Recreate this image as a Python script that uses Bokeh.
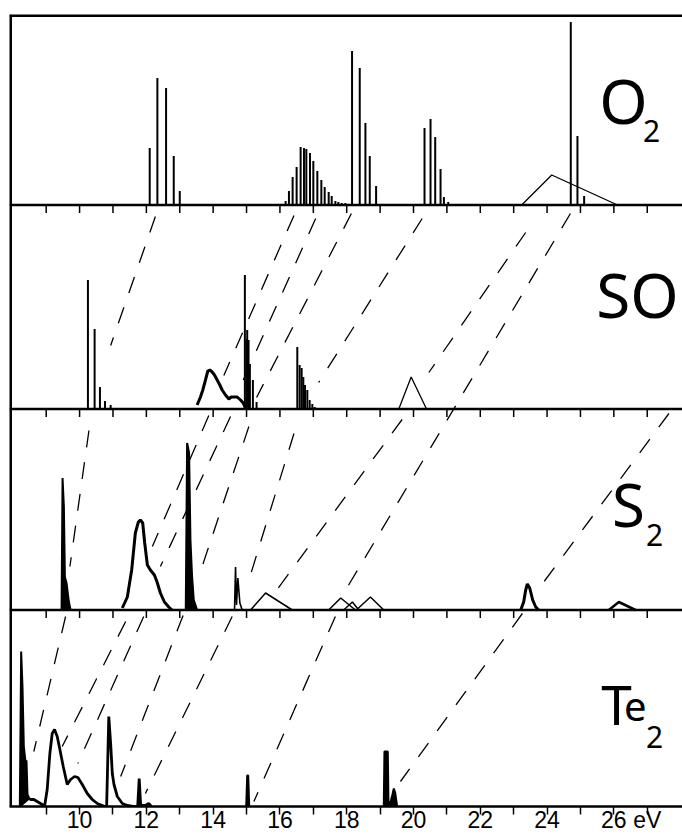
from bokeh.plotting import figure
from bokeh.models import Range1d, FixedTicker, Label
from bokeh.embed import file_html
from bokeh.resources import INLINE

# ---------------- data (energies in eV, intensities in arbitrary units) ----------------
tick_ev = list(range(9, 28))
tick_text = {10: "10", 12: "12", 14: "14", 16: "16", 18: "18", 20: "20",
             22: "22", 24: "24", 26: "26", 27: "eV"}

panel_names = ["O2", "SO", "S2", "Te2"]
panel_base = [601.5, 397.5, 196.5, 0.0]     # stacking offsets of the four spectra

# O2 : resolved vibrational lines
o2_stick_ev = [12.10, 12.33, 12.59, 12.82, 13.00,
               16.17, 16.27, 16.38, 16.50, 16.62, 16.72, 16.79, 16.90, 17.00, 17.12,
               17.24, 17.34, 17.46, 17.55, 17.66, 17.75, 17.85, 17.96, 18.03,
               18.16, 18.39, 18.56, 18.69, 18.88,
               20.33, 20.51, 20.65, 20.81, 20.91, 21.04,
               24.71, 24.91, 25.11]
o2_stick_h = [57, 127, 117, 49, 14,
              4, 14, 28, 38, 58, 57, 56, 52, 44, 34,
              25, 18, 13, 9, 4, 3, 2, 2, 1,
              154, 137, 82, 49, 19,
              77, 86, 68, 36, 8, 3,
              183, 69, 9]
o2_tri_ev = [23.24, 24.14, 26.11]
o2_tri_h = [0, 30, 0]

# SO
so_stick_ev = [10.25, 10.45, 10.61, 10.76, 10.93,
               14.95, 15.00, 15.02, 15.06, 15.10, 15.19, 15.30,
               16.52, 16.59, 16.65, 16.70, 16.75, 16.82, 16.89, 16.97, 17.04]
so_stick_h = [129, 80, 22, 8, 4,
              134, 70, 79, 69, 45, 29, 7,
              62, 44, 41, 32, 24, 19, 9, 5, 2]
so_band_ev = [13.52, 13.62, 13.69, 13.77, 13.84, 13.90, 13.97, 14.04, 14.12, 14.20,
              14.27, 14.37, 14.47, 14.54, 14.62, 14.72, 14.82, 14.90, 14.97]
so_band_h = [4, 12, 19, 29, 38, 39, 37, 34, 29, 24, 19, 14, 10, 12, 12, 12, 9, 6, 1]
so_tri_ev = [19.56, 19.93, 20.39]
so_tri_h = [0, 32, 0]

# S2
s2_peak1_ev = [9.46, 9.49, 9.53, 9.56, 9.61, 9.68, 9.73]
s2_peak1_h = [0, 132, 103, 33, 27, 8, 0]
s2_band_ev = [11.28, 11.43, 11.56, 11.67, 11.76, 11.82, 11.89, 11.95, 12.03, 12.12,
              12.24, 12.32, 12.42, 12.54, 12.67, 12.77]
s2_band_h = [2, 13, 40, 77, 88, 90, 87, 67, 45, 40, 35, 28, 17, 8, 3, 0]
s2_peak2_ev = [13.18, 13.22, 13.28, 13.32, 13.37, 13.42, 13.52]
s2_peak2_h = [0, 167, 157, 70, 33, 10, 0]
s2_spike_ev = [14.64, 14.67, 14.70, 14.74, 14.80, 14.87]
s2_spike_h = [0, 43, 5, 32, 7, 0]
s2_tri1_ev = [15.12, 15.57, 16.37]
s2_tri1_h = [0, 17, 0]
s2_tri2_ev = [17.46, 17.82, 18.26]
s2_tri2_h = [0, 12, 0]
s2_tri3_ev = [17.91, 18.17, 18.36]
s2_tri3_h = [0, 8, 0]
s2_tri4_ev = [18.29, 18.71, 19.11]
s2_tri4_h = [0, 13, 0]
s2_band2_ev = [23.21, 23.30, 23.36, 23.41, 23.48, 23.57, 23.66, 23.75]
s2_band2_h = [0, 8, 20, 26, 22, 10, 3, 0]
s2_band3_ev = [25.85, 26.15, 26.65]
s2_band3_h = [0, 8, 0]

# Te2
te2_peak1_ev = [8.21, 8.25, 8.29, 8.33, 8.38, 8.41, 8.44, 8.49]
te2_peak1_h = [0, 155, 120, 60, 45, 46, 12, 8]
te2_trace_ev = [8.49, 8.53, 8.63, 8.78, 8.88, 8.95, 9.03, 9.11, 9.18, 9.25, 9.33, 9.41,
                9.51, 9.63, 9.73, 9.85, 9.95, 10.08, 10.23, 10.38, 10.53, 10.68, 10.75,
                10.81, 10.875, 10.93, 10.98, 11.03, 11.13, 11.28, 11.43, 11.60, 11.74,
                11.785, 11.83, 11.97, 12.07, 12.15]
te2_trace_h = [8, 7, 7, 4, 2, 0, 17, 53, 73, 77, 70, 57,
               40, 22, 27, 30, 29, 22, 13, 7, 3, 1, 0,
               0, 90, 63, 33, 22, 10, 3, 1, 0, 0,
               28, 1, 1, 3, 0]
te2_peak2_ev = [14.99, 15.02, 15.05, 15.08]
te2_peak2_h = [0, 31, 31, 0]
te2_peak3_ev = [19.11, 19.13, 19.23, 19.25, 19.31, 19.37, 19.41, 19.45, 19.51]
te2_peak3_h = [0, 55, 55, 5, 4, 12, 18, 14, 0]

# correlation lines (start eV, start level, end eV, end level) on the stacked scale
corr_ev0 = [12.27, 16.42, 17.07, 18.14, 20.26, 23.36, 24.70,
            10.28, 13.87, 14.52, 15.07, 16.42, 19.66, 27.65,
            9.58, 11.38, 11.92, 13.10, 14.57, 17.66, 23.26]
corr_y0 = [590, 591, 588, 593, 588, 574, 593,
           376, 391, 390, 380, 373, 387, 393,
           190, 185, 190, 191, 190, 190, 193]
corr_ev1 = [10.93, 14.32, 14.72, 15.30, 17.16, 20.46, 17.96,
            9.71, 12.18, 12.42, 13.57, 15.02, 15.94, 23.80,
            8.63, 9.48, 9.95, 11.23, 11.97, 15.22, 19.61]
corr_y1 = [461, 431, 413, 409, 424, 434, 216,
           240, 260, 240, 230, 221, 218, 220,
           55, 60, 43, 30, 13, 5, 25]

# ---------------- figure ----------------
X0, X1 = 7.901, 28.056
Y1 = 792
p = figure(width=682, height=835, output_backend="svg", toolbar_location=None,
           x_range=Range1d(X0, X1), y_range=Range1d(0, Y1),
           y_axis_location=None)
p.min_border_left = 9
p.min_border_right = 0
p.min_border_top = 14
p.min_border_bottom = 29
p.background_fill_color = "white"
p.border_fill_color = "white"
p.outline_line_color = None
p.xgrid.visible = False
p.ygrid.visible = False

ax = p.xaxis[0]
ax.ticker = FixedTicker(ticks=tick_ev)
ax.major_label_overrides = {t: tick_text.get(t, "") for t in tick_ev}
ax.axis_line_width = 2.5
ax.major_tick_line_width = 1.5
ax.major_tick_out = 8
ax.major_tick_in = 0
ax.minor_tick_line_color = None
ax.major_label_standoff = -8
ax.major_label_text_font = "Liberation Sans"
ax.major_label_text_font_size = "23px"
ax.major_label_text_color = "black"

INK = "black"


def lift(vals, base):
    return [base + v for v in vals]


# frame: left and top borders only
p.segment(x0=[X0, X0], y0=[0, Y1], x1=[X0, X1], y1=[Y1, Y1], line_color=INK, line_width=5)

# panel baselines and their tick marks
for b in panel_base[:3]:
    p.segment(x0=[X0], y0=[b], x1=[X1], y1=[b], line_color=INK, line_width=2.5)
    p.segment(x0=tick_ev, y0=[b] * len(tick_ev), x1=tick_ev, y1=[b - 8] * len(tick_ev),
              line_color=INK, line_width=1.5)

# O2
b = panel_base[0]
p.segment(x0=o2_stick_ev, y0=[b] * len(o2_stick_ev), x1=o2_stick_ev,
          y1=lift(o2_stick_h, b), line_color=INK, line_width=2)
p.line(o2_tri_ev, lift(o2_tri_h, b), line_color=INK, line_width=1.3)

# SO
b = panel_base[1]
p.segment(x0=so_stick_ev, y0=[b] * len(so_stick_ev), x1=so_stick_ev,
          y1=lift(so_stick_h, b), line_color=INK, line_width=2)
p.line(so_band_ev, lift(so_band_h, b), line_color=INK, line_width=3)
p.line(so_tri_ev, lift(so_tri_h, b), line_color=INK, line_width=1.3)

# S2
b = panel_base[2]
for ev, h in [(s2_peak1_ev, s2_peak1_h), (s2_peak2_ev, s2_peak2_h)]:
    p.patch(ev, lift(h, b), fill_color=INK, line_color=INK, line_width=2)
p.line(s2_band_ev, lift(s2_band_h, b), line_color=INK, line_width=3)
p.line(s2_spike_ev, lift(s2_spike_h, b), line_color=INK, line_width=1.6)
for ev, h in [(s2_tri1_ev, s2_tri1_h), (s2_tri2_ev, s2_tri2_h),
              (s2_tri3_ev, s2_tri3_h), (s2_tri4_ev, s2_tri4_h)]:
    p.line(ev, lift(h, b), line_color=INK, line_width=1.5)
p.line(s2_band2_ev, lift(s2_band2_h, b), line_color=INK, line_width=3)
p.line(s2_band3_ev, lift(s2_band3_h, b), line_color=INK, line_width=2.5)

# Te2
b = panel_base[3]
p.patch(te2_peak1_ev, lift(te2_peak1_h, b), fill_color=INK, line_color=INK, line_width=2)
p.line(te2_trace_ev, lift(te2_trace_h, b), line_color=INK, line_width=2.8)
p.patch(te2_peak2_ev, lift(te2_peak2_h, b), fill_color=INK, line_color=INK, line_width=2)
p.patch(te2_peak3_ev, lift(te2_peak3_h, b), fill_color=INK, line_color=INK, line_width=2)

# correlation lines
p.segment(x0=corr_ev0, y0=corr_y0, x1=corr_ev1, y1=corr_y1,
          line_color=INK, line_width=1.3, line_dash="17 15")

# molecule labels
FONT = "Noto Sans"


def add_label(txt, x, y, size):
    p.add_layout(Label(x=x, y=y, text=txt, text_font=FONT, text_font_size=f"{size}px",
                       text_align="center", text_baseline="alphabetic", text_color=INK))


add_label("O", 26.29, 707, 62)
add_label("2", 27.13, 676, 30)
add_label("SO", 26.71, 513, 62)
add_label("S", 26.44, 303, 60)
add_label("2", 27.22, 272, 30)
add_label("T", 26.08, 103, 55)
add_label("e", 26.64, 100, 40)
add_label("2", 27.22, 70, 30)

open("out.html", "w").write(file_html(p, INLINE))
